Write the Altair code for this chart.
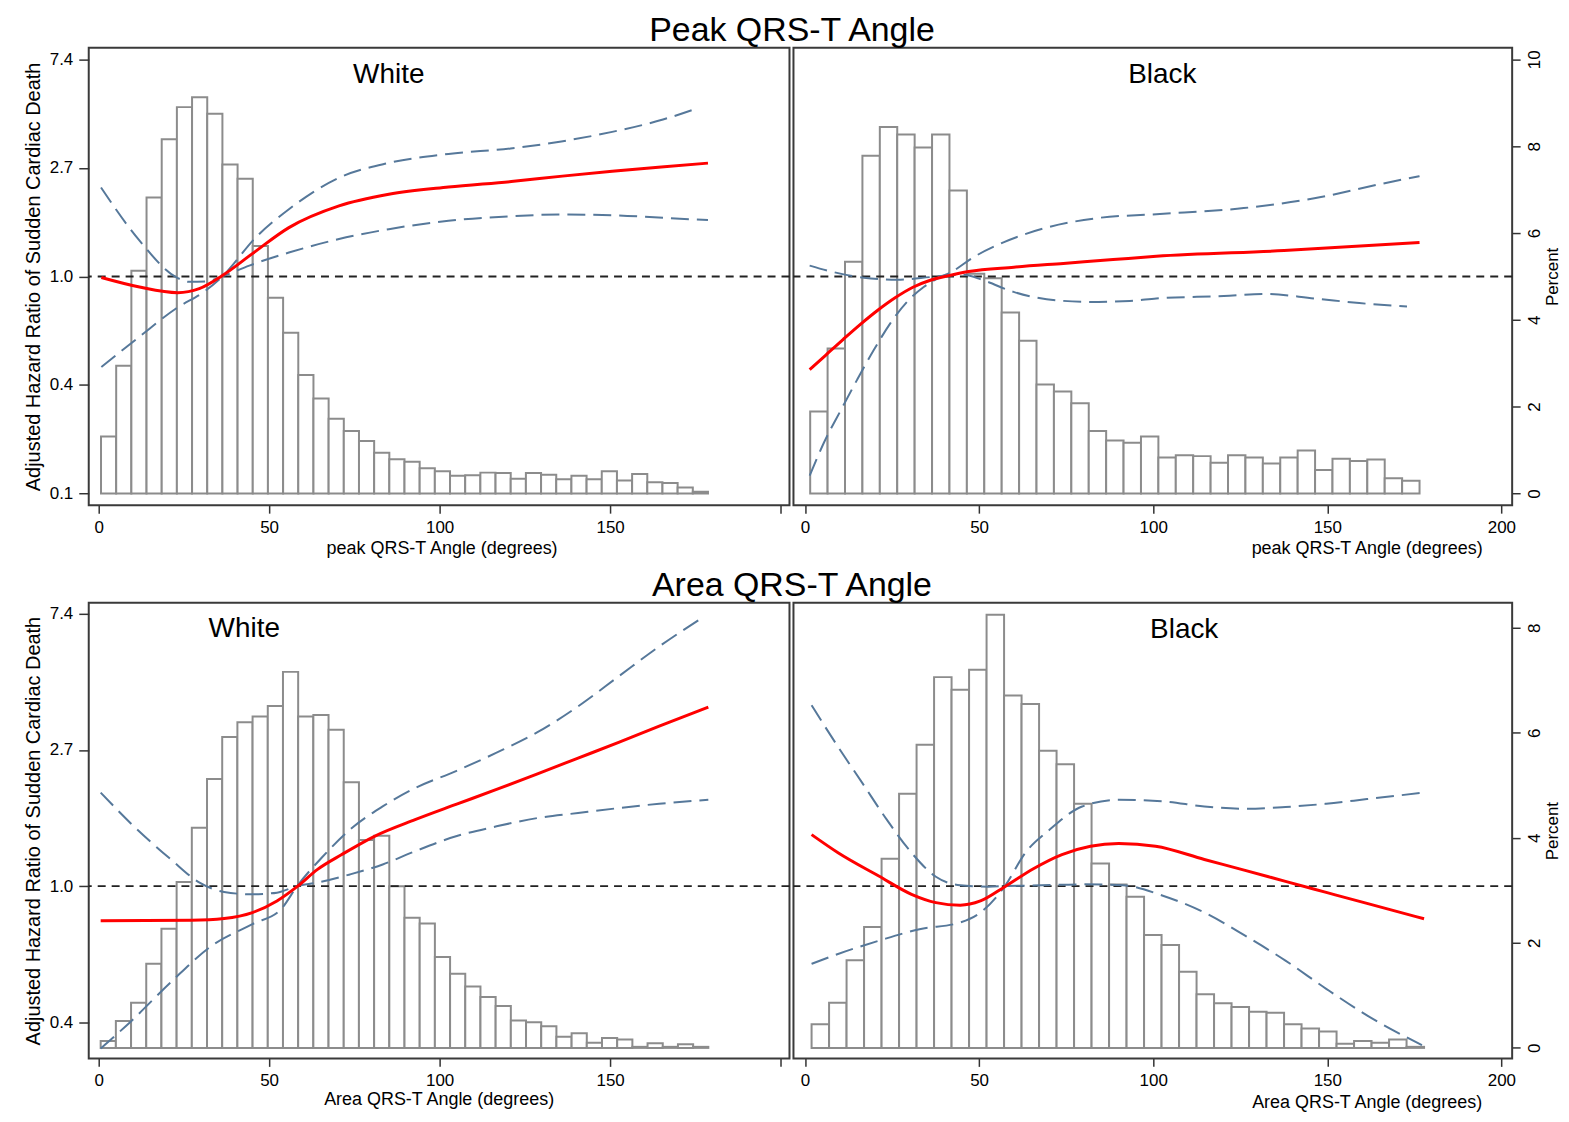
import altair as alt
import numpy as np
import pandas as pd

FONT = "Liberation Sans"

# ---------------- histogram percents ----------------
WP_RANGE = (0.7, 178.7)   # white, peak angle: 40 bins
WP_PCT = [1.31, 2.94, 5.13, 6.82, 8.16, 8.90, 9.13, 8.75, 7.58, 7.25,
          5.70, 4.51, 3.70, 2.73, 2.19, 1.72, 1.44, 1.21, 0.94, 0.79,
          0.73, 0.58, 0.51, 0.41, 0.42, 0.48, 0.47, 0.34, 0.47, 0.43,
          0.33, 0.41, 0.33, 0.51, 0.30, 0.45, 0.26, 0.24, 0.14, 0.04]
BP_RANGE = (1.5, 176.5)   # black, peak angle: 35 bins
BP_PCT = [1.89, 3.34, 5.34, 7.78, 8.44, 8.27, 7.97, 8.27, 6.98, 5.06,
          4.96, 4.17, 3.52, 2.51, 2.35, 2.08, 1.44, 1.22, 1.17, 1.31,
          0.83, 0.88, 0.86, 0.71, 0.88, 0.83, 0.69, 0.83, 0.99, 0.54,
          0.80, 0.75, 0.78, 0.35, 0.29]
WA_RANGE = (0.6, 178.8)   # white, area angle: 40 bins
WA_PCT = [0.13, 0.51, 0.86, 1.60, 2.27, 3.16, 4.19, 5.12, 5.92, 6.20,
          6.31, 6.51, 7.16, 6.31, 6.34, 6.06, 5.06, 3.96, 4.04, 3.08,
          2.48, 2.37, 1.73, 1.41, 1.17, 0.97, 0.80, 0.52, 0.49, 0.41,
          0.21, 0.28, 0.10, 0.19, 0.16, 0.02, 0.09, 0.02, 0.07, 0.02]
BA_RANGE = (1.9, 177.8)   # black, area angle: 35 bins
BA_PCT = [0.45, 0.86, 1.67, 2.30, 3.60, 4.84, 5.77, 7.06, 6.82, 7.20,
          8.25, 6.71, 6.55, 5.66, 5.40, 4.65, 3.51, 3.11, 2.88, 2.15,
          1.96, 1.45, 1.02, 0.85, 0.78, 0.69, 0.67, 0.45, 0.37, 0.31,
          0.08, 0.13, 0.10, 0.16, 0.02]

# ---------------- spline curves: (degrees, log hazard ratio) ----------------
# top white (peak angle)
WP_EST_X = [0.8, 12, 23.2, 29.5, 36.4, 45.1, 55.8, 70.5, 85.1, 102.6, 121, 136, 150.6, 165, 178.7]
WP_EST_Y = [-0.01, -0.098, -0.15, -0.113, 0.01, 0.21, 0.45, 0.65, 0.757, 0.824, 0.875, 0.925, 0.97, 1.01, 1.045]
WP_CIA_X = [0.8, 12, 22.7, 31.5, 36.3, 46.1, 55.8, 70.5, 85, 102.6, 120.8, 135.7, 150.6, 165.5, 176]
WP_CIA_Y = [-0.836, -0.555, -0.296, -0.128, 0.0, 0.36, 0.62, 0.91, 1.046, 1.13, 1.18, 1.245, 1.333, 1.447, 1.556]
WP_CIB_X = [0.7, 12, 22.7, 26.6, 31.5, 36.3, 44.2, 55.8, 70.5, 85.1, 102.6, 120.8, 135.7, 150.6, 165.5, 178.7]
WP_CIB_Y = [0.82, 0.33, -0.006, -0.05, -0.046, 0.0, 0.10, 0.22, 0.345, 0.436, 0.513, 0.555, 0.571, 0.565, 0.54, 0.52]
# top black (peak angle)
BP_EST_X = [1.35, 6, 11, 16, 21, 26, 31, 36, 41, 47, 60, 74.2, 88.5, 100.9, 137.6, 176.5]
BP_EST_Y = [-0.86, -0.725, -0.58, -0.44, -0.31, -0.195, -0.10, -0.035, 0.005, 0.045, 0.085, 0.12, 0.155, 0.186, 0.238, 0.313]
BP_CIA_X = [1.35, 5.5, 10.2, 15, 19.8, 24.5, 29.3, 34.1, 38.9, 42, 48.4, 57, 69.4, 83.7, 100.9, 126, 146.3, 166.5, 176.5]
BP_CIA_Y = [-1.837, -1.53, -1.24, -0.952, -0.677, -0.433, -0.235, -0.098, -0.006, 0.04, 0.177, 0.314, 0.45, 0.537, 0.574, 0.63, 0.72, 0.86, 0.925]
BP_CIB_X = [1.35, 7.4, 16.9, 26.5, 36, 41.3, 45.6, 51.3, 59.9, 69.4, 81.8, 93.3, 100.9, 120.3, 131.8, 146.3, 159.2, 172.9]
BP_CIB_Y = [0.10, 0.046, -0.012, -0.03, -0.006, 0.01, 0.015, -0.037, -0.143, -0.21, -0.235, -0.226, -0.204, -0.18, -0.161, -0.203, -0.246, -0.278]
# bottom white (area angle)
WA_EST_X = [0.6, 27.2, 36.8, 45.1, 52.3, 58.2, 64.2, 71.3, 80.9, 92.8, 104.8, 116.7, 128.7, 140.6, 152.5, 164.4, 178.8]
WA_EST_Y = [-0.255, -0.25, -0.237, -0.194, -0.109, -0.004, 0.123, 0.232, 0.366, 0.488, 0.60, 0.71, 0.825, 0.94, 1.055, 1.175, 1.315]
WA_CIA_X = [0.6, 9.3, 21.2, 33.2, 45.1, 53.5, 58.2, 65.4, 73.7, 83.3, 92.8, 104.8, 116.7, 128.7, 140.6, 152.5, 164.4, 176.4]
WA_CIA_Y = [-1.192, -0.997, -0.705, -0.437, -0.279, -0.169, 0.0, 0.208, 0.415, 0.585, 0.72, 0.845, 0.98, 1.13, 1.32, 1.54, 1.76, 1.961]
WA_CIB_X = [0.6, 9.3, 21.2, 29.6, 36.8, 45.1, 52.3, 58.2, 64.2, 73.7, 83.3, 92.8, 104.8, 116.7, 128.7, 140.6, 152.5, 164.4, 178.8]
WA_CIB_Y = [0.687, 0.464, 0.196, 0.026, -0.043, -0.06, -0.048, 0.0, 0.026, 0.086, 0.159, 0.256, 0.366, 0.439, 0.5, 0.537, 0.573, 0.605, 0.634]
# bottom black (area angle)
BA_EST_X = [1.9, 9.5, 21.2, 30.6, 37.6, 44.6, 50.4, 57.4, 65.6, 73.8, 82, 90.1, 100.7, 114.7, 126.4, 138, 149.7, 161.4, 177.8]
BA_EST_Y = [0.378, 0.245, 0.074, -0.06, -0.121, -0.14, -0.109, -0.004, 0.128, 0.232, 0.293, 0.313, 0.293, 0.196, 0.116, 0.035, -0.046, -0.127, -0.24]
BA_CIA_X = [1.9, 9.5, 21.2, 32.9, 44.6, 50.4, 57.4, 63.3, 70.3, 79.6, 90.1, 103, 114.7, 126.4, 138, 149.7, 161.4, 177.8]
BA_CIA_Y = [-0.571, -0.498, -0.401, -0.316, -0.267, -0.194, 0.0, 0.245, 0.415, 0.585, 0.634, 0.622, 0.585, 0.568, 0.581, 0.605, 0.639, 0.687]
BA_CIB_X = [1.9, 9.5, 16.5, 23.5, 30.6, 37.6, 44.6, 52.7, 57.4, 67.9, 79.6, 91.3, 103, 114.7, 126.4, 138, 149.7, 161.4, 177.2]
BA_CIB_Y = [1.328, 1.023, 0.756, 0.488, 0.245, 0.069, 0.006, -0.004, 0.0, 0.006, 0.013, 0.006, -0.072, -0.194, -0.364, -0.547, -0.754, -0.949, -1.168]

TICK_COLOR = "#333333"
CI_COLOR = "#56789a"
BAR_STROKE = "#8c8c8c"


def hist_frame(rng, pcts):
    edges = np.linspace(rng[0], rng[1], len(pcts) + 1)
    return pd.DataFrame({"lo": edges[:-1], "hi": edges[1:], "pct": pcts})


def curve_frame(xs, ys):
    return pd.DataFrame({"deg": xs, "lhr": ys})


def make_panel(hist, est, cia, cib, side, xdom, pdom, hdom, pvals, hvals,
               width, height, label, label_pos, xtitle, xtitle_pos):
    xs = alt.Scale(domain=xdom, nice=False, zero=False)
    ps = alt.Scale(domain=pdom, nice=False, zero=False)
    hs = alt.Scale(domain=hdom, nice=False, zero=False)
    label_expr = "datum.value == 200 ? '' : datum.label" if side == "left" else "datum.label"
    xax = alt.Axis(values=[0, 50, 100, 150, 200], title=xtitle, grid=False, domain=False,
                   tickSize=8, tickColor=TICK_COLOR, tickWidth=1.5,
                   labelFontSize=17, labelPadding=6, labelColor="black", labelExpr=label_expr,
                   titleFontSize=18, titleFontWeight="normal", titleColor="black",
                   titleX=xtitle_pos[0], titleY=xtitle_pos[1],
                   titleAlign="center", titleBaseline="middle")
    if side == "left":
        pax = None
        hax = alt.Axis(orient="left", values=hvals, grid=False, domain=False,
                       labelExpr="format(exp(datum.value), '.1f')",
                       tickSize=10, tickColor=TICK_COLOR, tickWidth=1.5,
                       labelFontSize=17, labelPadding=6, labelColor="black",
                       title="Adjusted Hazard Ratio of Sudden Cardiac Death",
                       titleFontSize=20, titleFontWeight="normal", titleColor="black",
                       titleAngle=270, titleX=-55, titleY=height / 2,
                       titleAlign="center", titleBaseline="middle")
    else:
        hax = None
        pax = alt.Axis(orient="right", values=pvals, grid=False, domain=False,
                       tickSize=8, tickColor=TICK_COLOR, tickWidth=1.5,
                       labelFontSize=17, labelPadding=6, labelColor="black",
                       labelAngle=270, labelAlign="center", labelBaseline="top",
                       title="Percent", titleFontSize=17, titleFontWeight="normal",
                       titleColor="black", titleAngle=270, titleX=40, titleY=height / 2,
                       titleAlign="center", titleBaseline="middle")

    bars = alt.Chart(hist).mark_bar(fill="white", stroke=BAR_STROKE, strokeWidth=2).encode(
        x=alt.X("lo:Q", scale=xs, axis=xax),
        x2="hi:Q",
        y=alt.Y("pct:Q", scale=ps, axis=pax, stack=None),
        y2=alt.datum(0),
    )
    ref = alt.Chart(pd.DataFrame({"lhr": [0.0]})).mark_rule(
        color="#222222", strokeWidth=2, strokeDash=[8, 6]).encode(
        y=alt.Y("lhr:Q", scale=hs, axis=hax))
    ci_layers = []
    for df in (cia, cib):
        ci_layers.append(alt.Chart(df).mark_line(
            color=CI_COLOR, strokeWidth=2, strokeDash=[18, 8], interpolate="monotone", clip=True).encode(
            x=alt.X("deg:Q", scale=xs, axis=xax),
            y=alt.Y("lhr:Q", scale=hs, axis=hax)))
    est_line = alt.Chart(est).mark_line(
        color="#ff0000", strokeWidth=3, interpolate="monotone", clip=True).encode(
        x=alt.X("deg:Q", scale=xs, axis=xax),
        y=alt.Y("lhr:Q", scale=hs, axis=hax))
    txt = alt.Chart(pd.DataFrame({"t": [label]})).mark_text(
        fontSize=28, font=FONT, color="black", align="center", baseline="middle").encode(
        text="t:N", x=alt.value(label_pos[0]), y=alt.value(label_pos[1]))
    inner = alt.layer(ref, *ci_layers, est_line, txt)
    return alt.layer(bars, inner).resolve_scale(y="independent").properties(
        width=width, height=height)


TOP_H, BOT_H = 459, 457
W_W, B_W = 703, 721
W_XDOM, B_XDOM = [-2.9, 202.6], [-3.3, 203.1]

top_white = make_panel(hist_frame(WP_RANGE, WP_PCT), curve_frame(WP_EST_X, WP_EST_Y),
                       curve_frame(WP_CIA_X, WP_CIA_Y), curve_frame(WP_CIB_X, WP_CIB_Y),
                       "left", W_XDOM, [-0.27, 10.27], [-2.11, 2.11], None, [-2, -1, 0, 1, 2],
                       W_W, TOP_H, "White", (301, 27), "peak QRS-T Angle (degrees)", (354, 43))
top_black = make_panel(hist_frame(BP_RANGE, BP_PCT), curve_frame(BP_EST_X, BP_EST_Y),
                       curve_frame(BP_CIA_X, BP_CIA_Y), curve_frame(BP_CIB_X, BP_CIB_Y),
                       "right", B_XDOM, [-0.27, 10.27], [-2.11, 2.11], [0, 2, 4, 6, 8, 10], None,
                       B_W, TOP_H, "Black", (370, 27), "peak QRS-T Angle (degrees)", (575, 43))
bot_white = make_panel(hist_frame(WA_RANGE, WA_PCT), curve_frame(WA_EST_X, WA_EST_Y),
                       curve_frame(WA_CIA_X, WA_CIA_Y), curve_frame(WA_CIB_X, WA_CIB_Y),
                       "left", W_XDOM, [-0.2, 8.474], [-1.265, 2.08], None, [-1, 0, 1, 2],
                       W_W, BOT_H, "White", (156, 26), "Area QRS-T Angle (degrees)", (351, 41))
bot_black = make_panel(hist_frame(BA_RANGE, BA_PCT), curve_frame(BA_EST_X, BA_EST_Y),
                       curve_frame(BA_CIA_X, BA_CIA_Y), curve_frame(BA_CIB_X, BA_CIB_Y),
                       "right", B_XDOM, [-0.2, 8.474], [-1.265, 2.08], [0, 2, 4, 6, 8], None,
                       B_W, BOT_H, "Black", (392, 27), "Area QRS-T Angle (degrees)", (575, 44))

title_style = dict(fontSize=34, font=FONT, fontWeight="normal", color="black",
                   anchor="middle", offset=-1)
row1 = alt.hconcat(top_white, top_black, spacing=0).properties(
    title=alt.TitleParams("Peak QRS-T Angle", **title_style))
row2 = alt.hconcat(bot_white, bot_black, spacing=0).properties(
    title=alt.TitleParams("Area QRS-T Angle", **title_style))

chart = alt.vconcat(row1, row2, spacing=11).properties(
    padding={"left": 14, "top": 4, "right": 0, "bottom": 0}
).configure(font=FONT).configure_view(stroke="#3a3a3a", strokeWidth=2)

chart.save("out.html", embed_options={"renderer": "svg", "actions": False})
